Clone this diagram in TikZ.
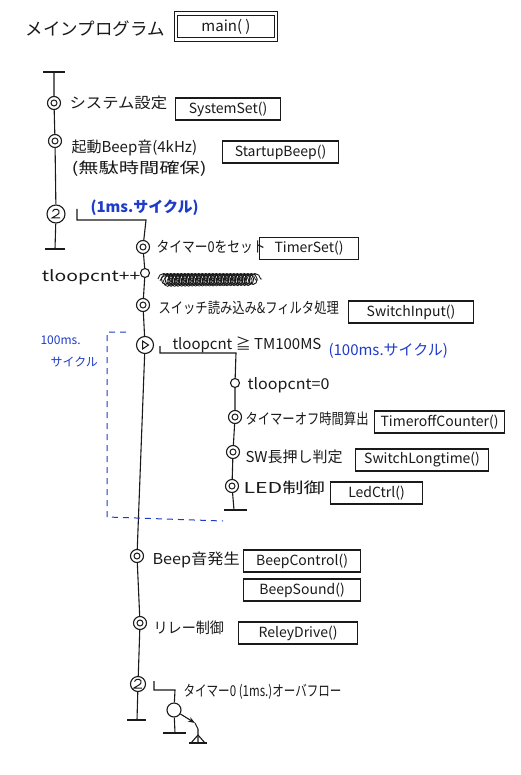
\documentclass[tikz,border=0pt]{standalone}
\usepackage{fontspec}
\setmainfont{Noto Sans CJK JP}
\usetikzlibrary{decorations.pathmorphing,arrows.meta}
\definecolor{pen}{HTML}{1A1A1A}
\definecolor{bpen}{HTML}{1E3CC8}
\newcommand\myfs[1]{\fontsize{#1}{#1}\selectfont}
\newcommand\xsq[2]{\scalebox{#1}[1]{#2}}
\begin{document}
\begin{tikzpicture}[x=1pt,y=-1pt,line width=1.1pt,draw=pen,
  lbl/.style={anchor=west,inner sep=0,text=pen,font=\myfs{15}},
  blbl/.style={lbl,text=bpen},
  fn/.style={draw,anchor=west,inner sep=0,minimum height=22,text=pen,font=\myfs{14}},
  sub/.style={circle,draw,inner sep=0,minimum size=13,
    path picture={\draw[line width=1pt] (path picture bounding box.center) circle (3pt);}},
  pln/.style={circle,draw,inner sep=0,minimum size=9},
  rep/.style={circle,draw,inner sep=0,minimum size=18,
    path picture={\draw[line width=1pt,shift={(path picture bounding box.center)}]
      (-3.5,-2.5) .. controls (-2,-6.5) and (4.5,-5) .. (3,-1) .. controls (2,1) and (-3,3) .. (-4,4) -- (4,4);}},
  sel/.style={circle,draw,inner sep=0,minimum size=17,
    path picture={\draw[line width=1pt,shift={(path picture bounding box.center)}]
      (-2.5,-4) -- (3.5,0) -- (-2.5,4) -- cycle;}},
  tickl/.style={draw,line width=1.1pt},
  scrib/.style={line width=0.9pt,decorate,decoration={coil,aspect=0.9,segment length=3.5pt,amplitude=5.5pt}}]
\useasboundingbox[fill=white] (0,0) rectangle (520,775);

% title
\node[lbl,font=\myfs{17.5}] (title) at (25,29) {メインプログラム};
\node[draw,double,double distance=2.5pt,minimum width=100,minimum height=26,inner sep=0,
  text=pen,font=\myfs{15}] (mainbox) at (226,26.5) {main(~)};

% top level sequence
\coordinate (t0) at (54,72);
\node[sub] (s1) at (54,103) {};
\node[sub] (s2) at (55,141) {};
\node[rep] (r1) at (56,214) {};
\coordinate (t1) at (55,249);
\draw (t0) -- (s1) -- (s2) -- (r1) -- (t1);
\draw[tickl] ([xshift=-11]t0) -- ([xshift=11]t0);
\draw[tickl] ([xshift=-10]t1) -- ([xshift=10]t1);

\node[lbl] (l1) at (69,103) {\xsq{1.09}{システム設定}};
\node[fn,minimum width=105] (b1) at (175,109) {SystemSet()};
\node[lbl] (l2a) at (71,148) {起動Beep音(4kHz)};
\node[lbl] (l2b) at (71,169) {\xsq{1.35}{(無駄時間確保)}};
\node[fn,minimum width=116] (b2) at (222,152) {StartupBeep()};
\node[blbl,font=\bfseries\myfs{15}] (l3) at (90,208) {(1ms.サイクル)};

% 1ms loop body
\coordinate (r1a) at (77,209);
\coordinate (r1b) at (77,220);
\coordinate (r1c) at (146,220);
\node[sub] (a1) at (143,247) {};
\node[pln] (a2) at (145,273) {};
\node[sub] (a3) at (143,305) {};
\node[sel] (a4) at (145,345) {};
\node[sub] (a5) at (137,556) {};
\node[sub] (a6) at (140,623) {};
\node[rep,minimum size=15] (a7) at (138,684) {};
\coordinate (a8) at (137,720);
\draw (r1a) -- (r1b) -- (r1c) -- (a1) -- (a2) -- (a3) -- (a4) -- (a5) -- (a6) -- (a7) -- (a8);
\draw[tickl] ([xshift=-10]a8) -- ([xshift=9]a8);

\node[lbl] (la1) at (156,247) {\xsq{0.85}{タイマー0をセット}};
\node[fn,minimum width=99] (ba1) at (259,248.5) {TimerSet()};
\node[lbl,anchor=east] (la2) at (141,277) {\xsq{1.29}{tloopcnt++}};
\draw[scrib] (158,279) -- (262,279);
\draw[scrib,line width=0.7pt] (160,281) -- (258,280);
\node[lbl] (la3) at (158,308) {\xsq{0.82}{スイッチ読み込み\&フィルタ処理}};
\node[fn,minimum width=125] (ba3) at (348,312) {SwitchInput()};
\node[lbl] (la4) at (172,345) {tloopcnt ≧ TM100MS};
\node[blbl] (la4b) at (328,351) {(100ms.サイクル)};

% 100ms selection body
\coordinate (a4a) at (160,346);
\coordinate (a4b) at (160,353);
\coordinate (a4c) at (236,353);
\node[pln] (c1) at (235,383) {};
\node[sub] (c2) at (235,417) {};
\node[sub] (c3) at (233,452) {};
\node[sub] (c4) at (232,486) {};
\coordinate (c5) at (234,510);
\draw (a4a) -- (a4b) -- (a4c) -- (c1) -- (c2) -- (c3) -- (c4) -- (c5);
\draw[tickl] ([xshift=-10]c5) -- ([xshift=13]c5);

\node[lbl] (lc1) at (247,385) {\xsq{1.07}{tloopcnt=0}};
\node[lbl] (lc2) at (245,419) {\xsq{0.82}{タイマーオフ時間算出}};
\node[fn,minimum width=130] (bc2) at (374,422) {TimeroffCounter()};
\node[lbl] (lc3) at (245,457) {SW長押し判定};
\node[fn,minimum width=133] (bc3) at (355,460) {SwitchLongtime()};
\node[lbl] (lc4) at (243,488) {\xsq{1.42}{LED制御}};
\node[fn,minimum width=92] (bc4) at (330,493) {LedCtrl()};

% dashed bracket
\draw[bpen,line width=1pt,dash pattern=on 6pt off 5pt] (126,332) -- (107,332) -- (107,517) -- (223,521);
\node[blbl,font=\myfs{12}] (lb1) at (40,340) {100ms.};
\node[blbl,font=\myfs{12}] (lb2) at (50,362) {サイクル};

\node[lbl] (la5) at (152,560) {\xsq{1.08}{Beep音発生}};
\node[fn,minimum width=117] (ba5) at (243,561) {BeepControl()};
\node[fn,minimum width=117] (ba6) at (243,590) {BeepSound()};
\node[lbl] (la6) at (153,628) {\xsq{0.94}{リレー制御}};
\node[fn,minimum width=119] (ba7) at (238,633) {ReleyDrive()};

% timer overflow wait
\coordinate (w0a) at (154,681);
\coordinate (w0b) at (154,690);
\coordinate (w0c) at (175,690);
\node[circle,draw,inner sep=0,minimum size=14] (w1) at (174,710) {};
\coordinate (w2) at (175,733);
\draw (w0a) -- (w0b) -- (w0c) -- (w1) -- (w2);
\draw[tickl] ([xshift=-12]w2) -- ([xshift=11]w2);
\coordinate (w3) at (195,723);
\coordinate (w4) at (198,729);
\coordinate (g1) at (198,743);
\draw[-{Stealth[length=7pt,width=5pt]}] (w1) -- (w3);
\draw (w3) -- (w4) -- (g1);
\draw ([xshift=-9]g1) -- ([xshift=9]g1);
\draw[line join=round] ([xshift=-7]g1) -- ([yshift=8]g1) -- ([xshift=7]g1);
\node[lbl] (la7) at (183,692) {\xsq{0.77}{タイマー0 (1ms.)オーバフロー}};
\end{tikzpicture}
\end{document}
